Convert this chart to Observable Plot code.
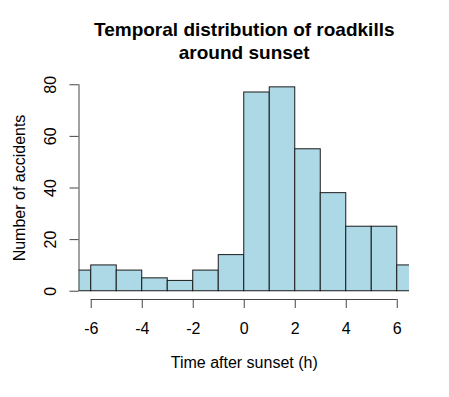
<!DOCTYPE html>
<html>
<head>
<meta charset="utf-8">
<script src="https://cdn.jsdelivr.net/npm/d3@7"></script>
<script src="https://cdn.jsdelivr.net/npm/@observablehq/plot@0.6"></script>
<style>
  html, body { margin: 0; padding: 0; background: #ffffff; }
  #chart svg { display: block; }
</style>
</head>
<body>
<div id="chart"></div>
<script>
// Histogram bins (hours after sunset), width 1 h
const binStarts = [-7, -6, -5, -4, -3, -2, -1, 0, 1, 2, 3, 4, 5, 6];
const counts = [8, 10, 8, 5, 4, 8, 14, 77, 79, 55, 38, 25, 25, 10];
const binWidth = 1;

const xTicks = [-6, -4, -2, 0, 2, 4, 6];
const yTicks = [0, 20, 40, 60, 80];

const titleText = "Temporal distribution of roadkills\naround sunset";
const xLabel = "Time after sunset (h)";
const yLabel = "Number of accidents";

const bins = binStarts.map((s, i) => ({x1: s, x2: s + binWidth, count: counts[i]}));

// R-style 4% axis extension
const ext = (a) => { const lo = d3.min(a), hi = d3.max(a), e = 0.04 * (hi - lo); return [lo - e, hi + e]; };
const xDomain = ext(xTicks);
const yDomain = ext(yTicks);
const yMid = (yDomain[0] + yDomain[1]) / 2;

const axisColor = "#444";

const chart = Plot.plot({
  width: 449,
  height: 397,
  marginLeft: 78.5,
  marginRight: 40,
  marginTop: 76,
  marginBottom: 98,
  style: {fontFamily: "'Liberation Sans', Arial, Helvetica, sans-serif", fontSize: "16px", color: "#000", background: "#fff"},
  x: {domain: xDomain},
  y: {domain: yDomain},
  marks: [
    Plot.rectY(bins, {x1: "x1", x2: "x2", y: "count", fill: "#ADD8E6", stroke: "#1a1a1a", strokeWidth: 1, inset: 0, clip: true}),
    // x axis
    Plot.ruleY([yDomain[0]], {x1: d3.min(xTicks), x2: d3.max(xTicks), stroke: axisColor}),
    Plot.axisX({ticks: xTicks, tickFormat: d => String(d), tickSize: 9, tickPadding: 14, fontSize: 16, label: null, stroke: axisColor, fill: "#000"}),
    // y axis
    Plot.ruleX([xDomain[0]], {y1: d3.min(yTicks), y2: d3.max(yTicks), stroke: axisColor}),
    Plot.axisY({ticks: yTicks, tickFormat: () => "", tickSize: 9, label: null, stroke: axisColor}),
    Plot.text(yTicks, {x: () => xDomain[0], y: d => d, text: d => String(d), dx: -28.5, rotate: -90, textAnchor: "middle", lineAnchor: "middle", fontSize: 16, fill: "#000"}),
    // axis labels
    Plot.text([xLabel], {frameAnchor: "bottom", dy: 68.6, textAnchor: "middle", fontSize: 16, fill: "#000"}),
    Plot.text([yLabel], {x: () => xDomain[0], y: () => yMid, dx: -59.5, rotate: -90, textAnchor: "middle", lineAnchor: "middle", fontSize: 16, fill: "#000"}),
    // title
    Plot.text([titleText], {frameAnchor: "top", dy: -56.5, textAnchor: "middle", lineAnchor: "top", lineHeight: 1.21, fontSize: 19, fontWeight: "bold", fill: "#000"})
  ]
});

document.getElementById("chart").appendChild(chart);
</script>
</body>
</html>
